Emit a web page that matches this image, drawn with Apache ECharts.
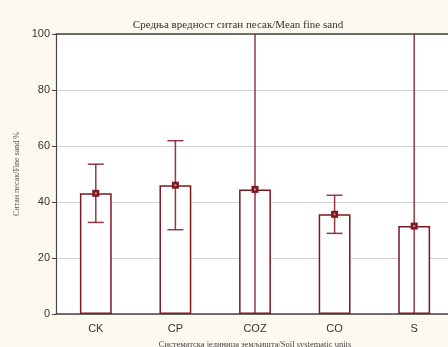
<!DOCTYPE html>
<html>
<head>
<meta charset="utf-8">
<script src="https://cdn.jsdelivr.net/npm/echarts@6/dist/echarts.min.js"></script>
<style>
  html, body { margin: 0; padding: 0; background: #fdf9ee; }
  #chart { width: 448px; height: 347px; }
</style>
</head>
<body>
<div id="chart"></div>
<script>
// Soil systematic units and mean fine sand content (%) with error ranges
const categories = ['CK', 'CP', 'COZ', 'CO', 'S'];
const means = [43.1, 46.0, 44.5, 35.6, 31.4];
const upper = [53.5, 61.9, 130, 42.4, 130];
const lower = [32.7, 30.1, -40, 28.8, -40];
const yTicks = [0, 20, 40, 60, 80, 100];

const dark = '#7d1820';
const serif = '"Liberation Serif", "DejaVu Serif", serif';
const sans = '"Liberation Sans", Arial, sans-serif';

const chart = echarts.init(document.getElementById('chart'), null, { renderer: 'canvas' });

const errData = categories.map((c, i) => [i, lower[i], upper[i], means[i]]);

chart.setOption({
  backgroundColor: '#fdf9ee',
  animation: false,
  title: {
    text: 'Средња вредност ситан песак/Mean fine sand',
    left: 233, top: 15, textAlign: 'center',
    textStyle: { fontFamily: serif, fontSize: 11, fontWeight: 'normal', color: '#333' }
  },
  grid: {
    left: 56, top: 34, width: 398, height: 280,
    outerBoundsMode: 'none', containLabel: false,
    backgroundColor: '#fff', show: true, borderWidth: 0
  },
  xAxis: [{
    type: 'category', data: categories, position: 'bottom',
    axisLine: { lineStyle: { color: '#444', width: 1.5 } },
    axisTick: { inside: true, alignWithLabel: true, length: 3, lineStyle: { color: '#444' } },
    axisLabel: { fontFamily: sans, fontSize: 11, color: '#333', margin: 9 },
    name: 'Систематска јединица земљишта/Soil systematic units',
    nameLocation: 'middle', nameGap: 26,
    nameTextStyle: { fontFamily: serif, fontSize: 8.5, color: '#444' }
  }, {
    type: 'category', data: categories, position: 'top',
    axisLine: { lineStyle: { color: '#444', width: 1.5 } },
    axisTick: { inside: true, alignWithLabel: true, length: 3, lineStyle: { color: '#444' } },
    axisLabel: { show: false }
  }],
  yAxis: {
    type: 'value', min: 0, max: 100, interval: 20,
    axisLine: { show: true, lineStyle: { color: '#444', width: 1.2 } },
    axisTick: { show: true, length: 4, lineStyle: { color: '#444' } },
    axisLabel: {
      fontFamily: sans, fontSize: 11, color: '#333', margin: 6,
      formatter: v => yTicks.includes(v) ? String(v) : ''
    },
    splitLine: { lineStyle: { color: '#d4d4d4', width: 1 } },
    name: 'Ситан песак/Fine sand %',
    nameLocation: 'middle', nameGap: 33,
    nameTextStyle: { fontFamily: serif, fontSize: 8, color: '#555' }
  },
  series: [{
    type: 'bar', data: means, barWidth: '40%', xAxisIndex: 0, z: 1,
    itemStyle: { color: '#fff', borderColor: dark, borderWidth: 1.5, opacity: 1 },
    emphasis: { disabled: true }
  }, {
    type: 'custom', xAxisIndex: 0, clip: true, z: 5,
    data: errData,
    renderItem: (params, api) => {
      const x = api.coord([api.value(0), 0])[0];
      const lo = api.coord([api.value(0), api.value(1)])[1];
      const hi = api.coord([api.value(0), api.value(2)])[1];
      const m = api.coord([api.value(0), api.value(3)])[1];
      const cap = 8;
      const ls = { stroke: dark, lineWidth: 1.5, opacity: 0.85 };
      return {
        type: 'group',
        children: [
          { type: 'line', shape: { x1: x, y1: lo, x2: x, y2: hi }, style: ls },
          { type: 'line', shape: { x1: x - cap, y1: hi, x2: x + cap, y2: hi }, style: ls },
          { type: 'line', shape: { x1: x - cap, y1: lo, x2: x + cap, y2: lo }, style: ls },
          { type: 'rect', shape: { x: x - 3.5, y: m - 3.5, width: 7, height: 7 }, style: { fill: dark } },
          { type: 'rect', shape: { x: x - 1, y: m - 1, width: 2, height: 2 }, style: { fill: '#c98c90' } }
        ]
      };
    }
  }]
});
</script>
</body>
</html>
